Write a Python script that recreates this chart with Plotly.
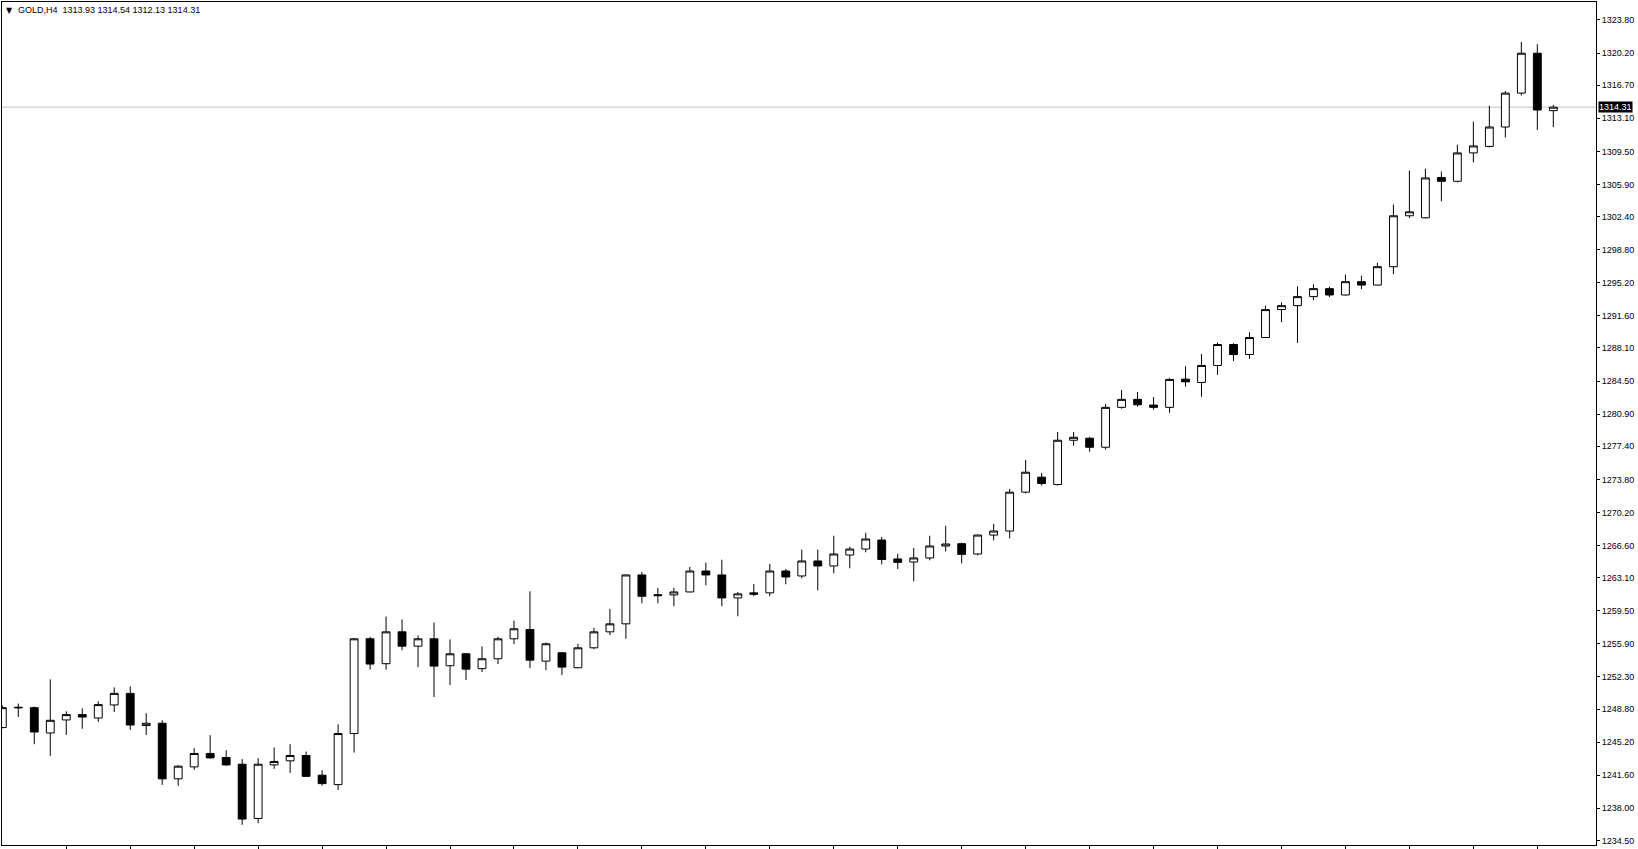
import plotly.graph_objects as go

symbol = "GOLD,H4"
last_ohlc = ["1313.93", "1314.54", "1312.13", "1314.31"]
current_price = 1314.31

opens = [1246.79, 1248.93, 1248.96, 1246.20, 1247.62, 1248.20, 1247.83, 1249.25, 1250.51, 1247.01,
         1247.26, 1241.21, 1242.51, 1243.97, 1243.53, 1242.80, 1236.90, 1242.73, 1243.17, 1243.75,
         1241.61, 1240.58, 1246.14, 1256.45, 1253.74, 1257.21, 1255.65, 1256.45, 1253.52, 1254.82,
         1253.20, 1254.28, 1256.45, 1257.46, 1254.02, 1254.93, 1253.30, 1255.47, 1257.21, 1258.08,
         1263.40, 1261.25, 1261.23, 1261.55, 1263.83, 1263.40, 1260.90, 1261.45, 1261.45, 1263.83,
         1263.29, 1264.92, 1264.38, 1265.57, 1266.22, 1267.20, 1265.14, 1264.81, 1265.25, 1266.55,
         1266.80, 1265.68, 1267.74, 1268.18, 1272.41, 1274.04, 1273.24, 1278.06, 1278.28, 1277.30,
         1281.64, 1282.51, 1281.89, 1281.64, 1284.71, 1284.35, 1286.20, 1288.48, 1287.39, 1289.24,
         1292.28, 1292.71, 1293.69, 1294.56, 1293.87, 1295.32, 1294.95, 1296.95, 1302.49, 1302.27,
         1306.65, 1306.24, 1309.33, 1310.04, 1312.15, 1315.84, 1320.18, 1313.93]
highs = [1249.21, 1249.40, 1249.07, 1252.03, 1248.56, 1248.88, 1249.65, 1251.16, 1251.27, 1248.35,
         1247.58, 1242.70, 1244.55, 1245.96, 1244.33, 1243.36, 1243.47, 1244.62, 1244.98, 1244.18,
         1242.15, 1247.15, 1256.56, 1256.67, 1258.87, 1258.55, 1256.81, 1258.22, 1256.38, 1254.89,
         1255.62, 1256.67, 1258.44, 1261.62, 1256.05, 1255.00, 1255.91, 1257.65, 1259.71, 1263.45,
         1263.73, 1261.99, 1261.99, 1264.27, 1264.74, 1265.06, 1261.55, 1262.42, 1264.59, 1264.05,
         1266.15, 1266.15, 1267.67, 1266.47, 1267.99, 1267.53, 1265.71, 1266.33, 1267.67, 1268.75,
         1266.91, 1267.80, 1268.97, 1272.77, 1275.92, 1274.51, 1278.96, 1278.96, 1278.42, 1282.00,
         1283.52, 1283.30, 1282.76, 1284.82, 1286.12, 1287.43, 1288.70, 1288.62, 1289.81, 1292.71,
         1293.07, 1294.81, 1295.03, 1294.78, 1296.08, 1295.97, 1297.38, 1303.71, 1307.41, 1307.62,
         1307.30, 1310.23, 1312.73, 1314.46, 1316.06, 1321.41, 1321.16, 1314.54]
lows = [1246.70, 1247.94, 1244.98, 1243.71, 1245.99, 1246.66, 1247.40, 1248.48, 1246.53, 1245.99,
        1240.56, 1240.45, 1242.18, 1243.43, 1242.62, 1236.21, 1236.38, 1242.30, 1241.85, 1241.45,
        1240.46, 1240.00, 1244.07, 1253.09, 1253.09, 1255.21, 1253.37, 1250.11, 1251.41, 1251.96,
        1252.83, 1253.70, 1255.86, 1253.26, 1253.04, 1252.50, 1253.25, 1255.32, 1256.85, 1256.45,
        1260.32, 1260.32, 1259.99, 1261.50, 1262.27, 1259.99, 1258.90, 1261.08, 1261.08, 1262.38,
        1263.03, 1261.73, 1263.57, 1264.12, 1265.86, 1264.55, 1264.05, 1262.70, 1264.99, 1265.96,
        1264.66, 1265.53, 1267.16, 1267.38, 1272.26, 1273.13, 1273.13, 1277.47, 1276.82, 1277.04,
        1281.49, 1281.71, 1281.38, 1281.05, 1283.88, 1282.79, 1285.18, 1286.70, 1286.92, 1289.20,
        1290.93, 1288.65, 1293.32, 1293.65, 1293.80, 1294.52, 1294.90, 1296.14, 1302.23, 1302.20,
        1304.07, 1306.13, 1308.31, 1309.93, 1311.02, 1315.58, 1311.83, 1312.13]
closes = [1248.96, 1248.99, 1246.31, 1247.58, 1248.20, 1247.94, 1249.29, 1250.51, 1247.07, 1247.26,
          1241.21, 1242.59, 1243.97, 1243.49, 1242.73, 1236.83, 1242.80, 1243.10, 1243.75, 1241.48,
          1240.69, 1246.14, 1256.45, 1253.70, 1257.21, 1255.65, 1256.45, 1253.48, 1254.82, 1253.15,
          1254.28, 1256.45, 1257.54, 1254.13, 1255.91, 1253.37, 1255.47, 1257.21, 1258.08, 1263.40,
          1261.08, 1261.15, 1261.55, 1263.83, 1263.40, 1260.90, 1261.34, 1261.30, 1263.83, 1263.18,
          1264.92, 1264.38, 1265.68, 1266.22, 1267.31, 1265.09, 1264.77, 1265.25, 1266.55, 1266.77,
          1265.64, 1267.74, 1268.18, 1272.41, 1274.58, 1273.35, 1278.06, 1278.38, 1277.30, 1281.64,
          1282.51, 1281.92, 1281.64, 1284.68, 1284.42, 1286.20, 1288.48, 1287.39, 1289.24, 1292.28,
          1292.71, 1293.69, 1294.56, 1293.87, 1295.32, 1294.95, 1296.95, 1302.49, 1302.92, 1306.61,
          1306.24, 1309.33, 1310.09, 1312.15, 1315.84, 1320.18, 1314.00, 1314.31]

price_tick_labels = ["1323.80", "1320.20", "1316.70", "1313.10", "1309.50", "1305.90", "1302.40",
                     "1298.80", "1295.20", "1291.60", "1288.10", "1284.50", "1280.90", "1277.40",
                     "1273.80", "1270.20", "1266.60", "1263.10", "1259.50", "1255.90", "1252.30",
                     "1248.80", "1245.20", "1241.60", "1238.00", "1234.50"]
time_tick_bars = [4, 8, 12, 16, 20, 24, 28, 32, 36, 40, 44, 48, 52, 56, 60, 64, 68, 72, 76, 80, 84, 88, 92, 96]

bars = list(range(len(opens)))
FONT = "Liberation Sans"

fig = go.Figure()
fig.add_trace(go.Candlestick(
    x=bars, open=opens, high=highs, low=lows, close=closes,
    increasing=dict(line=dict(color="black", width=1), fillcolor="white"),
    decreasing=dict(line=dict(color="black", width=1), fillcolor="black"),
    whiskerwidth=0, showlegend=False, hoverinfo="skip",
))

fig.add_shape(type="line", xref="paper", yref="y", x0=0, x1=1, y0=current_price, y1=current_price,
              line=dict(color="#C0C0C0", width=1), layer="below")

fig.add_annotation(xref="paper", yref="y", x=1, y=current_price, xanchor="left", yanchor="middle",
                   xshift=2, text=f"{current_price:.2f}", showarrow=False, bgcolor="black",
                   borderpad=0, font=dict(family=FONT, size=9, color="white"))

fig.add_annotation(xref="paper", yref="paper", x=0, y=1, xanchor="left", yanchor="top",
                   xshift=2, yshift=-2, text="\u25BC", showarrow=False,
                   font=dict(family="DejaVu Sans", size=8, color="black"))
fig.add_annotation(xref="paper", yref="paper", x=0, y=1, xanchor="left", yanchor="top",
                   xshift=14, yshift=-1,
                   text=symbol + "\u00a0\u00a0" + "\u00a0".join(last_ohlc), showarrow=False,
                   font=dict(family=FONT, size=9, color="black"))

fig.update_layout(
    width=1638, height=849,
    margin=dict(l=1, r=42, t=1, b=3),
    paper_bgcolor="white", plot_bgcolor="white",
    font=dict(family=FONT, size=9, color="black"),
    hovermode=False,
    xaxis=dict(range=[-0.019, 99.67], rangeslider=dict(visible=False), showgrid=False, zeroline=False,
               showline=True, linecolor="black", linewidth=1, mirror=True,
               tickmode="array", tickvals=time_tick_bars, showticklabels=False,
               ticks="outside", ticklen=3, tickcolor="black", tickwidth=1),
    yaxis=dict(range=[1234.01, 1325.755], side="right", showgrid=False, zeroline=False,
               showline=True, linecolor="black", linewidth=1, mirror=True,
               tickmode="array", tickvals=[float(t) for t in price_tick_labels],
               ticktext=price_tick_labels, ticks="outside", ticklen=3, tickcolor="black",
               tickwidth=1, tickfont=dict(family=FONT, size=9, color="black")),
)

fig.write_html("out.html", config={"displayModeBar": False},
               post_script="document.body.style.margin='0';document.body.style.overflow='hidden';")
